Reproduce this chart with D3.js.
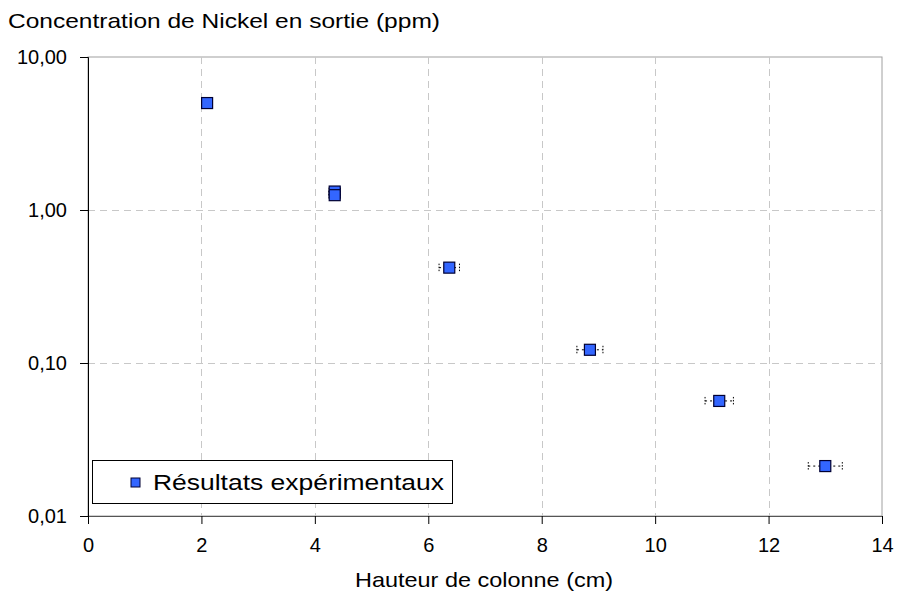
<!DOCTYPE html>
<html>
<head>
<meta charset="utf-8">
<script src="https://cdn.jsdelivr.net/npm/d3@7"></script>
<style>
    body { margin: 0; background: #fff; }
    text { font-family: "Liberation Sans", Arial, sans-serif; fill: #000; }
</style>
</head>
<body>
<div id="chart"></div>
<script>
// data
const hauteur = [2.1, 4.35, 4.35, 6.37, 8.85, 11.13, 13.0];
const concentration = [5.0, 1.32, 1.25, 0.42, 0.122, 0.0565, 0.0212];
const erreurX = [0.0, 0.1, 0.1, 0.18, 0.23, 0.25, 0.3];
const xTicks = [0, 2, 4, 6, 8, 10, 12, 14];
const yTicks = [0.01, 0.1, 1, 10];
const legendLabel = "Résultats expérimentaux";

let points = hauteur.map((h, i) => ({x: h, y: concentration[i], ex: erreurX[i]}));

let margin = {top: 57, right: 16, bottom: 76, left: 88};
let width = 898 - margin.left - margin.right;
let height = 592 - margin.top - margin.bottom;

let svg = d3.select("#chart").append("svg")
    .attr("width", 898)
    .attr("height", 592);

let g = svg.append("g")
    .attr("transform", `translate(${margin.left}, ${margin.top})`);

let x = d3.scaleLinear().domain([0, 14]).range([0, width]);
let y = d3.scaleLog().domain([0.01, 10]).range([height, 0]);

// frame (top + right) in grey
g.append("rect")
    .attr("x", 0).attr("y", 0)
    .attr("width", width).attr("height", height)
    .attr("fill", "none")
    .attr("stroke", "#a0a0a0")
    .attr("stroke-width", 1);

// grid lines
g.selectAll(".vgrid")
    .data(xTicks.filter(d => d > 0 && d < 14))
    .enter().append("line")
    .attr("x1", d => Math.round(x(d)) + 0.5)
    .attr("x2", d => Math.round(x(d)) + 0.5)
    .attr("y1", 0).attr("y2", height)
    .attr("stroke", "#c8c8c8")
    .attr("stroke-dasharray", "7,5");

g.selectAll(".hgrid")
    .data(yTicks.filter(d => d > 0.01 && d < 10))
    .enter().append("line")
    .attr("x1", 0).attr("x2", width)
    .attr("y1", d => Math.round(y(d)) + 0.5)
    .attr("y2", d => Math.round(y(d)) + 0.5)
    .attr("stroke", "#c8c8c8")
    .attr("stroke-dasharray", "7,5");

// axes
let xAxis = g.append("g")
    .attr("transform", `translate(0, ${height})`)
    .call(d3.axisBottom(x).tickValues(xTicks).tickSize(8).tickPadding(14).tickFormat(d3.format("d")));

let yAxis = g.append("g")
    .call(d3.axisLeft(y).tickValues(yTicks).tickSize(8).tickPadding(13)
        .tickFormat(d => d3.format(".2f")(d).replace(".", ",")));

[xAxis, yAxis].forEach(a => {
    a.selectAll("text").style("font-size", "20px").attr("fill", "#000");
    a.select(".domain").attr("stroke", "#000");
    a.selectAll(".tick line").attr("stroke", "#000");
});
xAxis.select(".domain").attr("stroke", "#555");

// error bars (horizontal, dotted)
let err = g.selectAll(".err")
    .data(points.filter(d => d.ex > 0))
    .enter().append("g");

err.append("line")
    .attr("x1", d => x(d.x - d.ex)).attr("x2", d => x(d.x + d.ex))
    .attr("y1", d => y(d.y)).attr("y2", d => y(d.y))
    .attr("stroke", "#000")
    .attr("stroke-dasharray", "2,3");

err.selectAll(".cap")
    .data(d => [[d.x - d.ex, d.y], [d.x + d.ex, d.y]])
    .enter().append("line")
    .attr("x1", d => x(d[0])).attr("x2", d => x(d[0]))
    .attr("y1", d => y(d[1]) - 4).attr("y2", d => y(d[1]) + 4)
    .attr("stroke", "#000")
    .attr("stroke-dasharray", "1.5,1.5");

// markers
g.selectAll(".pt")
    .data(points)
    .enter().append("rect")
    .attr("x", d => x(d.x) - 5.5)
    .attr("y", d => y(d.y) - 5.5)
    .attr("width", 11).attr("height", 11)
    .attr("fill", "#3366ff")
    .attr("stroke", "#000033")
    .attr("stroke-width", 1.2);

// legend
let legend = svg.append("g").attr("transform", "translate(92, 460)");
legend.append("rect")
    .attr("x", 0.5).attr("y", 0.5)
    .attr("width", 360).attr("height", 43)
    .attr("fill", "#fff")
    .attr("stroke", "#000");
legend.append("rect")
    .attr("x", 39).attr("y", 18)
    .attr("width", 9).attr("height", 9)
    .attr("fill", "#3366ff")
    .attr("stroke", "#000033");
legend.append("text")
    .attr("x", 61).attr("y", 30)
    .style("font-size", "22px")
    .attr("textLength", 291)
    .attr("lengthAdjust", "spacingAndGlyphs")
    .text(legendLabel);

// titles
svg.append("text")
    .attr("x", 8).attr("y", 28)
    .style("font-size", "21px")
    .attr("textLength", 432)
    .attr("lengthAdjust", "spacingAndGlyphs")
    .text("Concentration de Nickel en sortie (ppm)");

svg.append("text")
    .attr("x", 484).attr("y", 587)
    .attr("text-anchor", "middle")
    .style("font-size", "21px")
    .attr("textLength", 258)
    .attr("lengthAdjust", "spacingAndGlyphs")
    .text("Hauteur de colonne (cm)");
</script>
</body>
</html>
